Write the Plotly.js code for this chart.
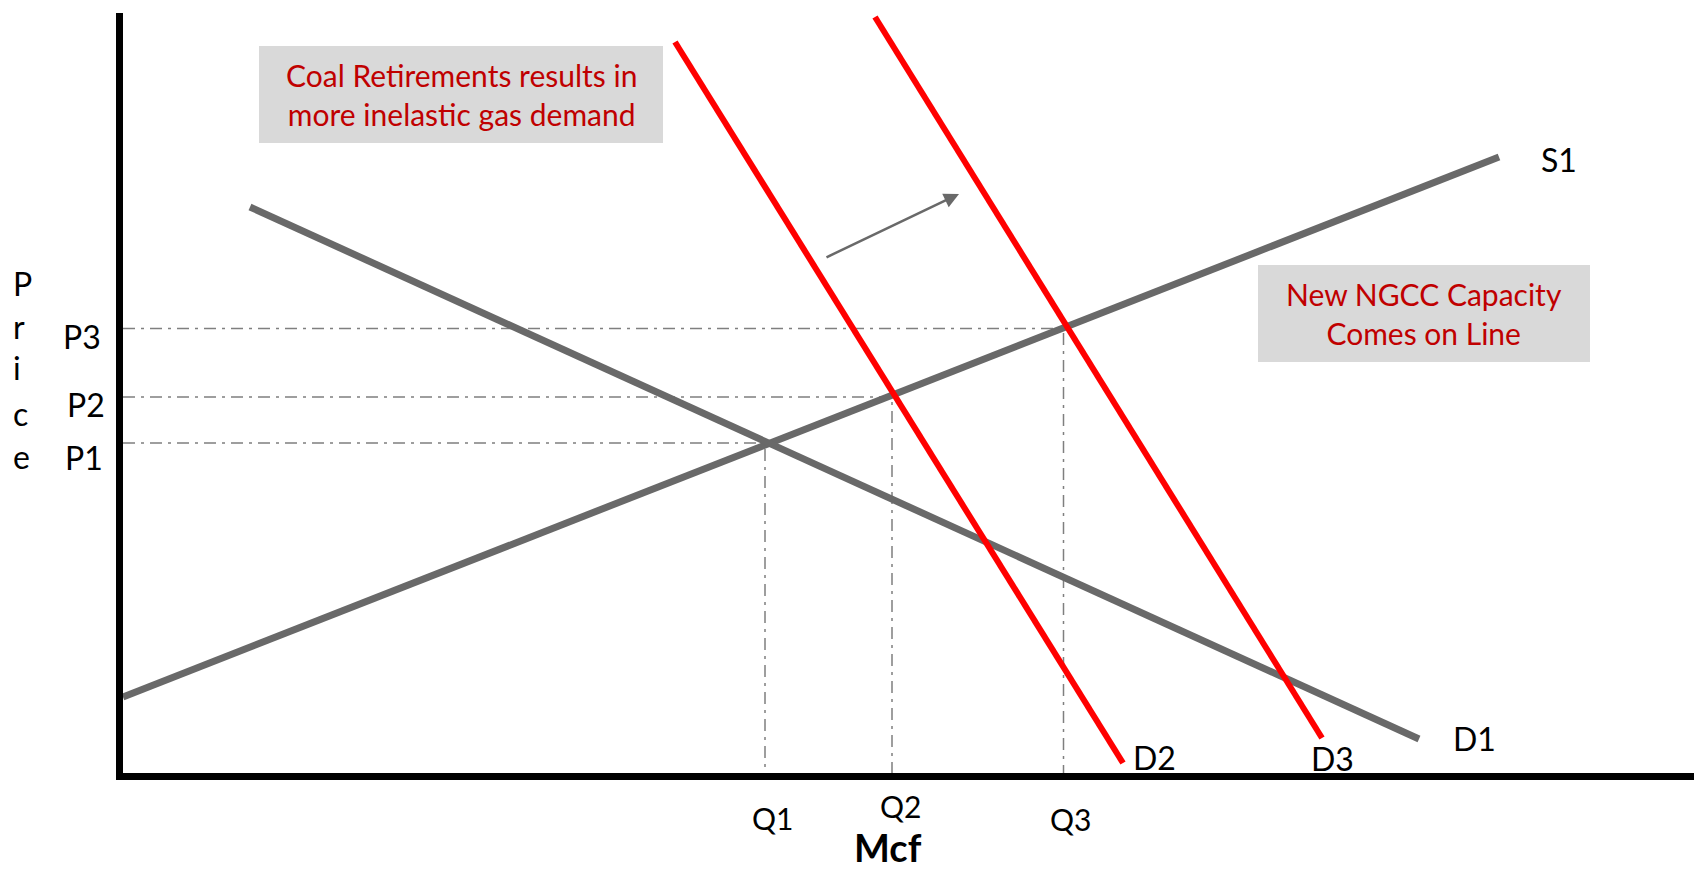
<!DOCTYPE html>
<html>
<head>
<meta charset="utf-8">
<script src="https://cdn.plot.ly/plotly-3.0.1.min.js"></script>
<style>
  html, body { margin: 0; padding: 0; background: #ffffff; }
  #chart { width: 1694px; height: 872px; }
</style>
</head>
<body>
<div id="chart"></div>
<script>
// ---- Data (quantity / price in chart units) ----
const supplyQ  = [0, 1376];
const supplyP  = [76, 616];
const demand1Q = [127, 1296];
const demand1P = [566, 34];
const demand2Q = [552, 1000];
const demand2P = [731, 10];
const demand3Q = [752, 1199];
const demand3P = [756, 35];

const priceLevels = [330, 376, 444.5];
const priceLabels = ['P1', 'P2', 'P3'];
const qtyLevels   = [642, 769, 940.5];
const qtyLabels   = ['Q1', 'Q2', 'Q3'];

const curveLabels = ['S1', 'D1', 'D2', 'D3'];
const axisLetters = ['P', 'r', 'i', 'c', 'e'];
const xAxisTitle  = 'Mcf';
const box1Text = 'Coal Retirements results in<br>more inelastic gas demand';
const box2Text = 'New NGCC Capacity<br>Comes on Line';

// shift arrow (from -> to)
const shiftFromQ = 702, shiftFromP = 515;
const shiftToQ   = 836, shiftToP   = 579;

// ---- Styles ----
const FONT = "Lato, 'Liberation Sans', Arial, sans-serif";
const GRAY = '#696969';
const RED = '#ff0000';
const TEXTRED = '#c00000';
const XR = [0, 1571], YR = [0, 760];

// guide lines (dash-dot), built from the levels
const guideX = [], guideY = [];
for (let i = 0; i < priceLevels.length; i++) {
  guideX.push(0, qtyLevels[i], qtyLevels[i], null);
  guideY.push(priceLevels[i], priceLevels[i], 0, null);
}

const traces = [
  { x: guideX, y: guideY, mode: 'lines', line: { color: '#7f7f7f', width: 1.5, dash: '12px,6px,3px,6px' }, hoverinfo: 'skip' },
  { x: supplyQ, y: supplyP, mode: 'lines', line: { color: GRAY, width: 7 }, name: 'S1' },
  { x: demand1Q, y: demand1P, mode: 'lines', line: { color: GRAY, width: 7 }, name: 'D1' },
  { x: demand2Q, y: demand2P, mode: 'lines', line: { color: RED, width: 6 }, name: 'D2' },
  { x: demand3Q, y: demand3P, mode: 'lines', line: { color: RED, width: 6 }, name: 'D3' }
];

const labelFont = { family: FONT, size: 32, color: '#000000' };
const qFont = { family: FONT, size: 30, color: '#000000' };
// labels placed in chart units, converted to paper fractions so that
// labels outside the plotting area are still drawn
function lab(text, x, y, extra) {
  return Object.assign({ text: text,
    x: (x - XR[0]) / (XR[1] - XR[0]), y: (y - YR[0]) / (YR[1] - YR[0]),
    xref: 'paper', yref: 'paper', showarrow: false,
    xanchor: 'center', yanchor: 'middle', font: labelFont }, extra || {});
}

const annotations = [
  lab(curveLabels[0], 1436, 614),
  lab(curveLabels[1], 1351, 35),
  lab(curveLabels[2], 1031, 16),
  lab(curveLabels[3], 1209, 15),
  lab(qtyLabels[0], 649, -45, { font: qFont }),
  lab(qtyLabels[1], 777, -33, { font: qFont }),
  lab(qtyLabels[2], 947, -46, { font: qFont }),
  lab(priceLabels[2], -41, 437),
  lab(priceLabels[1], -37, 369),
  lab(priceLabels[0], -39, 316),
  lab(xAxisTitle, 765, -99, { yanchor: 'bottom', font: { family: FONT, size: 38, color: '#000000', weight: 'bold' } }),
  lab(box1Text, 338, 678.5, { font: { family: FONT, size: 30, color: TEXTRED } }),
  lab(box2Text, 1301, 459.5, { font: { family: FONT, size: 30, color: TEXTRED } }),
  { x: shiftToQ, y: shiftToP, ax: shiftFromQ, ay: shiftFromP, xref: 'x', yref: 'y', axref: 'x', ayref: 'y',
    text: '', showarrow: true, arrowhead: 2, arrowsize: 1.2, arrowwidth: 2.5, arrowcolor: GRAY, standoff: 0 }
];
const letterY = [490, 447, 405, 360, 317];
axisLetters.forEach(function (ch, i) {
  annotations.push(lab(ch, -112, letterY[i], { xanchor: 'left' }));
});

const shapes = [
  { type: 'rect', xref: 'x', yref: 'y', x0: 136, x1: 540, y0: 630, y1: 727, fillcolor: '#d9d9d9', line: { width: 0 }, layer: 'below' },
  { type: 'rect', xref: 'x', yref: 'y', x0: 1135, x1: 1467, y0: 411, y1: 508, fillcolor: '#d9d9d9', line: { width: 0 }, layer: 'below' }
];

const axisCommon = { showline: true, linewidth: 7, linecolor: '#000000', showgrid: false, zeroline: false,
  showticklabels: false, ticks: '', fixedrange: true };

const layout = {
  width: 1694, height: 872,
  margin: { l: 123, r: 0, t: 13, b: 99, pad: 0 },
  paper_bgcolor: '#ffffff', plot_bgcolor: '#ffffff',
  showlegend: false,
  xaxis: Object.assign({ range: XR }, axisCommon),
  yaxis: Object.assign({ range: YR }, axisCommon),
  annotations: annotations,
  shapes: shapes
};

Plotly.newPlot('chart', traces, layout, { displayModeBar: false, staticPlot: true });
</script>
</body>
</html>
